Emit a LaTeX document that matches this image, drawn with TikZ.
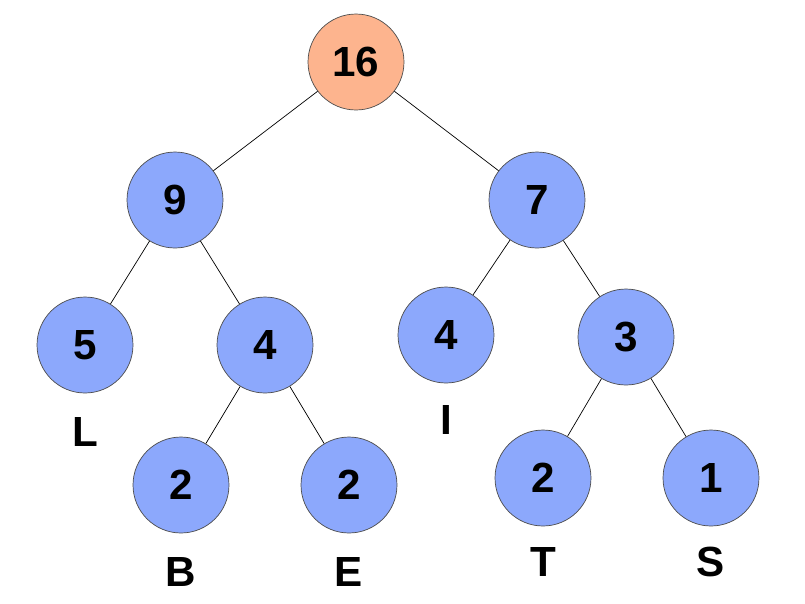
\documentclass[tikz,border=0pt]{standalone}
\usepackage{fontspec}
\setmainfont{Liberation Sans}
\definecolor{nodeblue}{HTML}{8CA8FC}
\definecolor{rootorange}{HTML}{FDB48E}
\begin{document}
\begin{tikzpicture}[x=0.02cm,y=-0.02cm,font=\fontsize{24}{28}\selectfont\bfseries]
                \tikzset{knot/.style={circle,draw=black!70,fill=nodeblue,minimum size=1.92cm,inner sep=0pt},
                    leaf/.style={inner sep=0pt}}
                \useasboundingbox (0,0) rectangle (805,603);
                \node[knot,fill=rootorange] (r) at (356,62) {16};
                \node[knot] (n9) at (175,200) {9};
                \node[knot] (n7) at (537,200) {7};
                \node[knot] (n5) at (85,345) {5};
                \node[knot] (n4a) at (265,345) {4};
                \node[knot] (n4b) at (446,335) {4};
                \node[knot] (n3) at (626,337) {3};
                \node[knot] (n2b) at (181,485) {2};
                \node[knot] (n2e) at (349,485) {2};
                \node[knot] (n2t) at (543,478) {2};
                \node[knot] (n1) at (711,478) {1};
                \node[leaf] (lL) at (85,432) {L};
                \node[leaf] (lB) at (181,572) {B};
                \node[leaf] (lE) at (349,572) {E};
                \node[leaf] (lI) at (446,420) {I};
                \node[leaf] (lT) at (543,562) {T};
                \node[leaf] (lS) at (711,562) {S};
                \draw (r)--(n9); \draw (r)--(n7);
                \draw (n9)--(n5); \draw (n9)--(n4a);
                \draw (n4a)--(n2b); \draw (n4a)--(n2e);
                \draw (n7)--(n4b); \draw (n7)--(n3);
                \draw (n3)--(n2t); \draw (n3)--(n1);
            \end{tikzpicture}
\end{document}
